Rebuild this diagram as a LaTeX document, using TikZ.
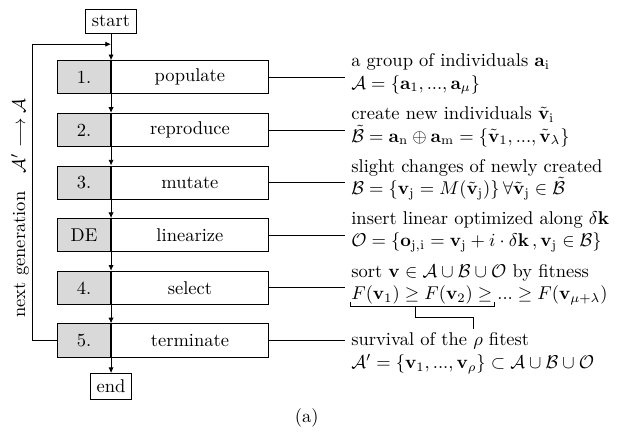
\documentclass[tikz,border=0pt]{standalone}
\usepackage{amssymb}
\usepackage{amsmath}
\usepackage{tikz}
\usepackage{xcolor}
\usetikzlibrary{arrows.meta}

\begin{document}
\begin{tikzpicture}[x=1cm,y=1cm,line width=0.5pt,
        numbox/.style={draw,fill=black!15,minimum width=1.01cm,minimum height=0.63cm,anchor=east},
        stepbox/.style={draw,minimum width=2.98cm,minimum height=0.63cm,anchor=west},
        termbox/.style={draw},
        desc/.style={anchor=west,align=left},
        flow/.style={-{Latex[length=1.1mm,width=1mm]}}]

        \useasboundingbox (0,0) rectangle (11.8,-8.25);

        % ------------------------------------------------ column of steps
        \node[termbox] (start) at (2.11,-0.40) {start};

        \node[numbox]  (n1) at (2.11,-1.47) {1.};
        \node[stepbox] (s1) at (2.11,-1.47) {populate};
        \node[numbox]  (n2) at (2.11,-2.47) {2.};
        \node[stepbox] (s2) at (2.11,-2.47) {reproduce};
        \node[numbox]  (n3) at (2.11,-3.47) {3.};
        \node[stepbox] (s3) at (2.11,-3.47) {mutate};
        \node[numbox]  (n4) at (2.11,-4.47) {DE};
        \node[stepbox] (s4) at (2.11,-4.47) {linearize};
        \node[numbox]  (n5) at (2.11,-5.47) {4.};
        \node[stepbox] (s5) at (2.11,-5.47) {select};
        \node[numbox]  (n6) at (2.11,-6.47) {5.};
        \node[stepbox] (s6) at (2.11,-6.47) {terminate};

        \node[termbox] (end) at (2.11,-7.34) {end};

        \draw[flow] (start.south)    -- (n1.north east);
        \draw[flow] (n1.south east)  -- (n2.north east);
        \draw[flow] (n2.south east)  -- (n3.north east);
        \draw[flow] (n3.south east)  -- (n4.north east);
        \draw[flow] (n4.south east)  -- (n5.north east);
        \draw[flow] (n5.south east)  -- (n6.north east);
        \draw[flow] (n6.south east)  -- (end.north);

        % ------------------------------------------------ loop back
        \coordinate (looptop) at (0.61,-0.84);
        \coordinate (back)    at (2.11,-0.84);
        \draw[flow] (n6.west) -| (looptop) -- (back);
        \node[rotate=90,anchor=south,inner sep=1.5pt] (gen) at (0.61,-3.95)
        {next generation\quad$\mathcal{A}'\longrightarrow\mathcal{A}$};

        % ------------------------------------------------ descriptions
        \node[desc] (d1) at (6.55,-1.41)
        {a group of individuals $\mathbf{a}_\mathrm{i}$\\
         $\mathcal{A}=\{\mathbf{a}_1,...,\mathbf{a}_\mu\}$};
        \node[desc] (d2) at (6.55,-2.41)
        {create new individuals $\tilde{\mathbf{v}}_\mathrm{i}$\\
         $\tilde{\mathcal{B}}=\mathbf{a}_\mathrm{n}\oplus\mathbf{a}_\mathrm{m}=\{\tilde{\mathbf{v}}_1,...,\tilde{\mathbf{v}}_\lambda\}$};
        \node[desc] (d3) at (6.55,-3.41)
        {slight changes of newly created\\
         $\mathcal{B}=\{\mathbf{v}_\mathrm{j}=M(\tilde{\mathbf{v}}_\mathrm{j})\}\,\forall\tilde{\mathbf{v}}_\mathrm{j}\in\tilde{\mathcal{B}}$};
        \node[desc] (d4) at (6.55,-4.41)
        {insert linear optimized along $\delta\mathbf{k}$\\
         $\mathcal{O}=\{\mathbf{o}_{\mathrm{j},\mathrm{i}}=\mathbf{v}_\mathrm{j}+i\cdot\delta\mathbf{k}\,,\mathbf{v}_\mathrm{j}\in\mathcal{B}\}$};
        \node[desc] (d5) at (6.55,-5.41)
        {sort $\mathbf{v}\in\mathcal{A}\cup\mathcal{B}\cup\mathcal{O}$ by fitness\\
         $F(\mathbf{v}_1)\geq F(\mathbf{v}_2)\geq...\geq F(\mathbf{v}_{\mu+\lambda})$};
        \node[desc] (d6) at (6.55,-6.47) {survival of the $\rho$ fitest};
        \node[desc] (d7) at (6.55,-6.92)
        {$\mathcal{A}'=\{\mathbf{v}_1,...,\mathbf{v}_\rho\}\subset\mathcal{A}\cup\mathcal{B}\cup\mathcal{O}$};

        \draw (s1.east) -- (s1.east -| d1.west);
        \draw (s2.east) -- (s2.east -| d2.west);
        \draw (s3.east) -- (s3.east -| d3.west);
        \draw (s4.east) -- (s4.east -| d4.west);
        \draw (s5.east) -- (s5.east -| d5.west);
        \draw (s6.east) -- (d6.west);

        % bracket under the first fitness values
        \draw (6.65,-5.73) -- (6.65,-5.82) -- (9.39,-5.82) -- (9.39,-5.73);
        \draw (7.90,-5.82) -- (7.90,-6.04) -- (8.99,-6.04) -- (8.99,-6.25);

        \node (cap) at (5.83,-7.94) {(a)};

\end{tikzpicture}
\end{document}
